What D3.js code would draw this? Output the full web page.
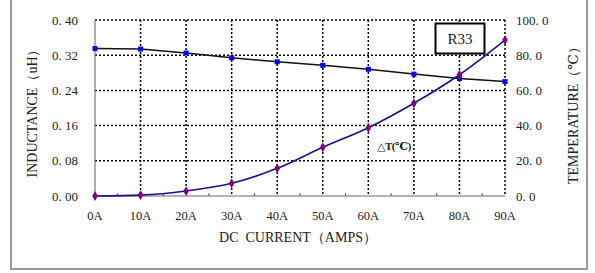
<!DOCTYPE html>
<html lang="en">
<head>
  <meta charset="UTF-8">
  <title>R33 Inductance / Temperature</title>
  <script src="https://d3js.org/d3.v7.min.js"></script>
  <style>
    body { margin: 0; background: #fff; }
    text { font-family: "Liberation Serif", "DejaVu Serif", serif; fill: #222; }
  </style>
</head>
<body>
  <script>
    "use strict";
    // data
    var current = [0, 10, 20, 30, 40, 50, 60, 70, 80, 90];
    var inductance = [0.335, 0.334, 0.325, 0.314, 0.305, 0.297, 0.288, 0.277, 0.267, 0.260];
    var temperature = [0, 0.5, 2.8, 7.2, 15.7, 27.7, 38.8, 52.7, 68.9, 88.6];
    var leftTicks = [0, 0.08, 0.16, 0.24, 0.32, 0.40];
    var rightTicks = [0, 20, 40, 60, 80, 100];

    var W = 595, H = 273;
    var svg = d3.select('body').append('svg')
      .attr('width', W)
      .attr('height', H);

    // outer gray frame
    svg.append('rect')
      .attr('x', 11).attr('y', -5)
      .attr('width', 576).attr('height', 274)
      .attr('fill', 'none')
      .attr('stroke', '#999')
      .attr('stroke-width', 2);

    var x = d3.scaleLinear().domain([0, 90]).range([95, 505]);
    var yL = d3.scaleLinear().domain([0, 0.40]).range([196, 20]);
    var yR = d3.scaleLinear().domain([0, 100]).range([196, 20]);

    // dotted grid
    svg.append('g').selectAll('line.h')
      .data(leftTicks.slice(1))
      .enter().append('line')
      .attr('x1', x(0)).attr('x2', x(90))
      .attr('y1', function (d) { return yL(d); })
      .attr('y2', function (d) { return yL(d); })
      .attr('stroke', '#000').attr('stroke-width', 1.5)
      .attr('stroke-dasharray', '2,2');
    svg.append('g').selectAll('line.v')
      .data(current.slice(1))
      .enter().append('line')
      .attr('x1', function (d) { return x(d); })
      .attr('x2', function (d) { return x(d); })
      .attr('y1', yL(0.40)).attr('y2', yL(0))
      .attr('stroke', '#000').attr('stroke-width', 1.5)
      .attr('stroke-dasharray', '2,2');

    // axes lines
    svg.append('line')
      .attr('x1', x(0)).attr('x2', x(0))
      .attr('y1', yL(0.40)).attr('y2', yL(0))
      .attr('stroke', '#777').attr('stroke-width', 1.2);
    svg.append('line')
      .attr('x1', x(0)).attr('x2', x(90))
      .attr('y1', yL(0)).attr('y2', yL(0))
      .attr('stroke', '#666').attr('stroke-width', 1.2);

    // minor ticks on x axis
    svg.append('g').selectAll('line')
      .data(d3.range(5, 90, 10))
      .enter().append('line')
      .attr('x1', function (d) { return x(d); })
      .attr('x2', function (d) { return x(d); })
      .attr('y1', yL(0)).attr('y2', yL(0) - 3)
      .attr('stroke', '#555');

    // tick labels
    svg.append('g').selectAll('text')
      .data(leftTicks)
      .enter().append('text')
      .attr('x', 78)
      .attr('y', function (d) { return yL(d) + 4.5; })
      .attr('text-anchor', 'end')
      .attr('font-size', '13px')
      .text(function (d) { return d.toFixed(2).replace('.', '. '); });

    svg.append('g').selectAll('text')
      .data(rightTicks)
      .enter().append('text')
      .attr('x', 516)
      .attr('y', function (d) { return yR(d) + 4.5; })
      .attr('font-size', '13px')
      .text(function (d) { return d.toFixed(1).replace('.', '. '); });

    svg.append('g').selectAll('text')
      .data(current)
      .enter().append('text')
      .attr('x', function (d) { return x(d); })
      .attr('y', 220)
      .attr('text-anchor', 'middle')
      .attr('font-size', '12.5px')
      .text(function (d) { return d + 'A'; });

    // axis titles
    svg.append('text')
      .attr('x', 298).attr('y', 242)
      .attr('text-anchor', 'middle')
      .attr('font-size', '14px')
      .text('DC\u00a0\u00a0CURRENT（AMPS）');
    svg.append('text')
      .attr('transform', 'translate(37,110) rotate(-90)')
      .attr('text-anchor', 'middle')
      .attr('font-size', '14px')
      .text('INDUCTANCE（uH）');
    svg.append('text')
      .attr('transform', 'translate(578,112) rotate(-90)')
      .attr('text-anchor', 'middle')
      .attr('font-size', '14px')
      .text('TEMPERATURE（℃）');

    // inductance series
    var lineL = d3.line()
      .x(function (d, i) { return x(current[i]); })
      .y(function (d) { return yL(d); });
    svg.append('path')
      .datum(inductance)
      .attr('fill', 'none')
      .attr('stroke', '#111')
      .attr('stroke-width', 1.5)
      .attr('d', lineL);
    svg.append('g').selectAll('rect')
      .data(inductance)
      .enter().append('rect')
      .attr('x', function (d, i) { return x(current[i]) - 2.5; })
      .attr('y', function (d) { return yL(d) - 2.5; })
      .attr('width', 5).attr('height', 5)
      .attr('fill', '#0000ff');

    // temperature series
    var lineR = d3.line()
      .x(function (d, i) { return x(current[i]); })
      .y(function (d) { return yR(d); })
      .curve(d3.curveMonotoneX);
    svg.append('path')
      .datum(temperature)
      .attr('fill', 'none')
      .attr('stroke', '#14148c')
      .attr('stroke-width', 1.6)
      .attr('d', lineR);
    var diamond = d3.symbol().type(d3.symbolDiamond).size(28);
    svg.append('g').selectAll('path')
      .data(temperature)
      .enter().append('path')
      .attr('transform', function (d, i) { return 'translate(' + x(current[i]) + ',' + yR(d) + ')'; })
      .attr('d', diamond)
      .attr('fill', '#800080');

    // legend box
    svg.append('rect')
      .attr('x', 435.5).attr('y', 23.5)
      .attr('width', 49).attr('height', 30)
      .attr('fill', '#fff')
      .attr('stroke', '#000')
      .attr('stroke-width', 2);
    svg.append('text')
      .attr('x', 460).attr('y', 44)
      .attr('text-anchor', 'middle')
      .attr('font-size', '15px')
      .text('R33');

    // series label
    svg.append('text')
      .attr('x', 377).attr('y', 150)
      .attr('font-size', '11px')
      .attr('font-weight', 'bold')
      .attr('letter-spacing', '-0.5px')
      .text('△T(℃)');
  </script>
</body>
</html>
